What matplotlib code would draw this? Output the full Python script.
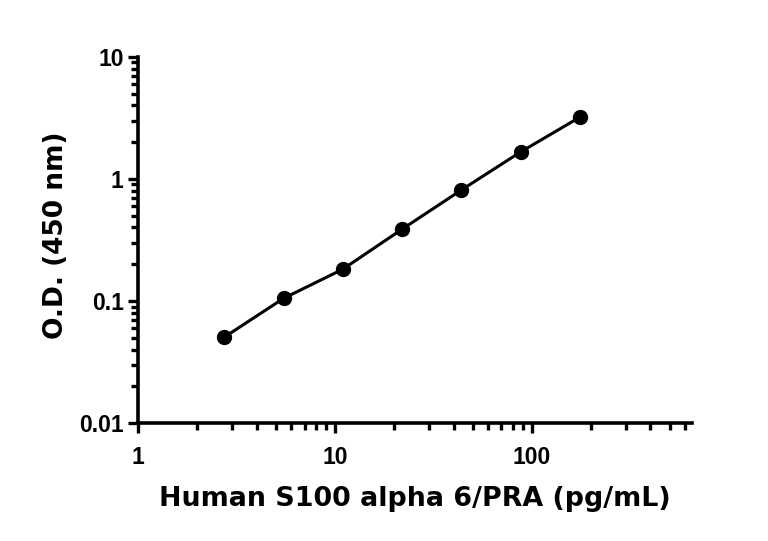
import matplotlib
matplotlib.use("Agg")
import matplotlib.pyplot as plt
from matplotlib.ticker import LogLocator, FixedLocator, NullFormatter

conc = [2.73, 5.47, 10.94, 21.88, 43.75, 87.5, 175.0]
od = [0.0504, 0.105, 0.182, 0.387, 0.81, 1.66, 3.2]
xticks = [1, 10, 100]
xticklabels = ["1", "10", "100"]
yticks = [0.01, 0.1, 1, 10]
yticklabels = ["0.01", "0.1", "1", "10"]

fig = plt.figure(figsize=(7.68, 5.41), dpi=100)
ax = fig.add_axes([0.180, 0.218, 0.721, 0.677])

ax.plot(conc, od, color="black", lw=2.2, marker="o", ms=10, mfc="black", mec="black")

ax.set_xscale("log")
ax.set_yscale("log")
ax.set_xlim(1, 650)
ax.set_ylim(0.01, 10)

ax.xaxis.set_major_locator(FixedLocator(xticks))
ax.set_xticklabels(xticklabels)
ax.yaxis.set_major_locator(FixedLocator(yticks))
ax.set_yticklabels(yticklabels)
ax.xaxis.set_minor_locator(LogLocator(base=10, subs=range(2, 10), numticks=20))
ax.yaxis.set_minor_locator(LogLocator(base=10, subs=range(2, 10), numticks=20))
ax.xaxis.set_minor_formatter(NullFormatter())
ax.yaxis.set_minor_formatter(NullFormatter())

for s in ["top", "right"]:
    ax.spines[s].set_visible(False)
for s in ["left", "bottom"]:
    ax.spines[s].set_linewidth(2.6)

ax.tick_params(which="major", length=7.5, width=2.4, direction="out", labelsize=16.5)
ax.tick_params(which="minor", length=5, width=2.4, direction="out")
ax.tick_params(axis="x", which="major", pad=9)
ax.tick_params(axis="y", which="major", pad=3)
for lab in ax.get_xticklabels() + ax.get_yticklabels():
    lab.set_fontfamily("Liberation Sans")
    lab.set_fontweight("bold")

ax.set_xlabel("Human S100 alpha 6/PRA (pg/mL)", fontsize=19.4, fontweight="bold", labelpad=12)
ax.set_ylabel("O.D. (450 nm)", fontsize=19, fontweight="bold", labelpad=16)
ax.yaxis.set_label_coords(-0.125, 0.514)

fig.savefig("out.png", dpi=100)
